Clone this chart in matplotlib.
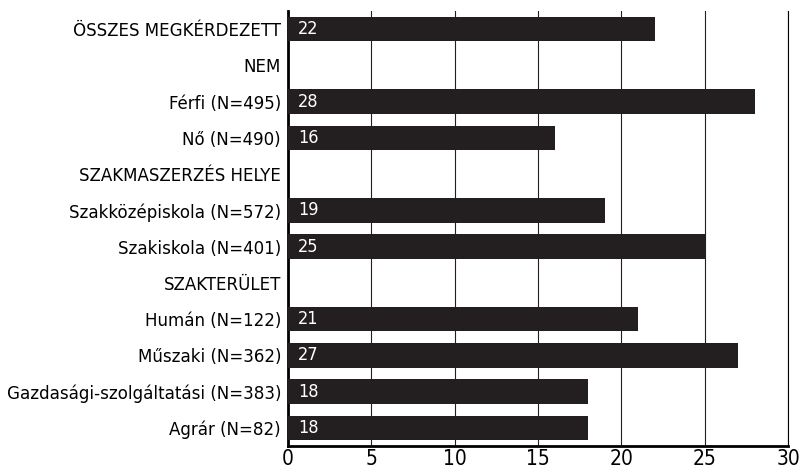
import matplotlib.pyplot as plt
import numpy as np

categories = ["ÖSSZES MEGKÉRDEZETT", "NEM", "Férfi (N=495)", "Nő (N=490)",
              "SZAKMASZERZÉS HELYE", "Szakközépiskola (N=572)", "Szakiskola (N=401)",
              "SZAKTERÜLET", "Humán (N=122)", "Műszaki (N=362)",
              "Gazdasági-szolgáltatási (N=383)", "Agrár (N=82)"]
values = [22, None, 28, 16, None, 19, 25, None, 21, 27, 18, 18]
xticks = [0, 5, 10, 15, 20, 25, 30]

plt.rcParams['font.family'] = ['DejaVu Sans']
plt.rcParams['font.stretch'] = 'condensed'
fig = plt.figure(figsize=(8.01, 4.73), dpi=100)
ax = fig.add_axes([0.3596, 0.0571, 0.6242, 0.9196])

ypos = np.arange(len(categories))
for y, v in zip(ypos, values):
    if v is None:
        continue
    ax.barh(y, v, height=0.67, color='#231f20', zorder=3)
    ax.text(0.6, y, str(v), color='white', va='center', ha='left', fontsize=13, zorder=4)

ax.set_xlim(0, 30)
ax.set_ylim(len(categories) - 0.5, -0.5)
ax.set_yticks(ypos)
ax.set_yticklabels(categories, fontsize=13.3)
ax.set_xticks(xticks)
ax.set_xticklabels([str(t) for t in xticks], fontsize=15)
ax.xaxis.grid(True, color='#231f20', linewidth=0.8, zorder=0)
ax.set_axisbelow(True)
ax.tick_params(axis='both', length=0, pad=2)
ax.tick_params(axis='y', pad=5)
ax.spines['top'].set_visible(False)
ax.spines['right'].set_linewidth(0.8)
ax.spines['left'].set_linewidth(2)
ax.spines['bottom'].set_linewidth(2)
fig.savefig('out.png', dpi=100)
